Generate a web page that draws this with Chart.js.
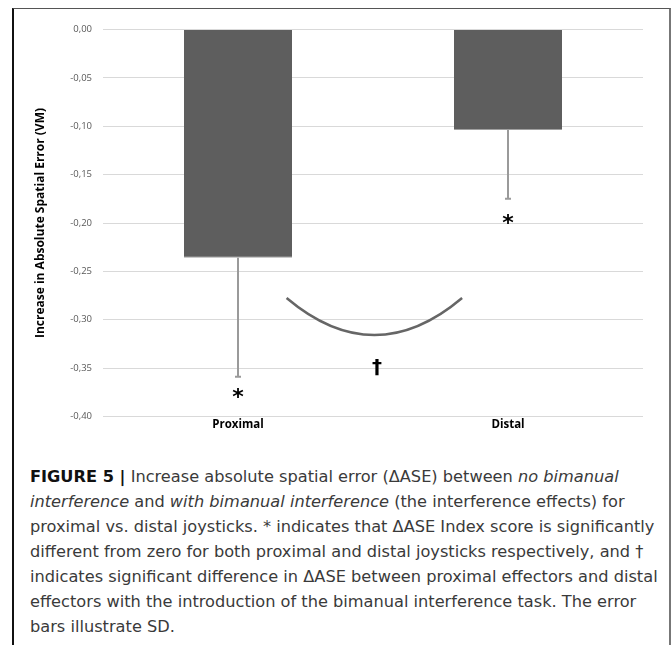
<!DOCTYPE html>
<html>
<head>
<meta charset="utf-8">
<script src="https://cdn.jsdelivr.net/npm/chart.js@4.4.0/dist/chart.umd.min.js"></script>
<style>
body { margin: 0; background: #fff; width: 672px; height: 645px; overflow: hidden; position: relative; }
.frame { position: absolute; left: 12px; top: 8px; width: 655px; height: 700px; border-top: 1px solid #555; border-left: 2px solid #111; border-right: 2px solid #777; }
#wrap { position: absolute; left: 0; top: 0; width: 672px; height: 450px; }
.caption { position: absolute; left: 30px; top: 464px; font-family: 'DejaVu Sans', sans-serif; font-size: 16.2px; line-height: 25px; color: #3a3a3a; white-space: nowrap; }
.caption b { color: #111; }
</style>
</head>
<body>
<div class="frame"></div>
<div id="wrap"><canvas id="c"></canvas></div>
<div class="caption">
<b>FIGURE 5 |</b> Increase absolute spatial error (ΔASE) between <i>no bimanual</i><br>
<i>interference</i> and <i>with bimanual interference</i> (the interference effects) for<br>
proximal vs. distal joysticks. * indicates that ΔASE Index score is significantly<br>
different from zero for both proximal and distal joysticks respectively, and †<br>
indicates significant difference in ΔASE between proximal effectors and distal<br>
effectors with the introduction of the bimanual interference task. The error<br>
bars illustrate SD.
</div>
<script>
const CATEGORIES = ['Proximal', 'Distal'];
const MEANS = [-0.236, -0.104];
const SDS = [0.123, 0.071];
const Y_TICKS = [0, -0.05, -0.10, -0.15, -0.20, -0.25, -0.30, -0.35, -0.40];
// significance marks (value axis)
const STAR_Y = [-0.375, -0.195];
// curve between the groups: x in category units, y in data units
const ARC_X = [0.18, 0.505, 0.83];
const ARC_Y = [-0.2775, -0.3158, -0.2775];
const DAGGER_POS = [0.515, -0.35];

const fmt = v => Math.abs(v) < 1e-9 ? '0,00' : v.toFixed(2).replace('.', ',');

const marks = {
    id: 'marks',
    afterDatasetsDraw(chart) {
        const ctx = chart.ctx, x = chart.scales.x, y = chart.scales.y;
        const meta = chart.getDatasetMeta(0);
        ctx.save();
        // error bars (SD)
        ctx.strokeStyle = '#9a9a9a';
        ctx.lineWidth = 2;
        meta.data.forEach((bar, i) => {
            const y0 = y.getPixelForValue(MEANS[i]), y1 = y.getPixelForValue(MEANS[i] - SDS[i]);
            ctx.beginPath();
            ctx.moveTo(bar.x, y0);
            ctx.lineTo(bar.x, y1);
            ctx.moveTo(bar.x - 3, y1);
            ctx.lineTo(bar.x + 3, y1);
            ctx.stroke();
        });
        // asterisks
        ctx.fillStyle = '#000';
        ctx.font = 'bold 22px "DejaVu Sans"';
        ctx.textAlign = 'center';
        ctx.textBaseline = 'middle';
        meta.data.forEach((bar, i) => ctx.fillText('*', bar.x, y.getPixelForValue(STAR_Y[i]) + 6));
        // curve
        const px = ARC_X.map(v => x.getPixelForValue(v));
        const py = ARC_Y.map(v => y.getPixelForValue(v));
        const cx = 2 * px[1] - (px[0] + px[2]) / 2, cy = 2 * py[1] - (py[0] + py[2]) / 2;
        ctx.strokeStyle = '#666';
        ctx.lineWidth = 2.5;
        ctx.beginPath();
        ctx.moveTo(px[0], py[0]);
        ctx.quadraticCurveTo(cx, cy, px[2], py[2]);
        ctx.stroke();
        // dagger
        ctx.font = 'bold 20px "DejaVu Sans"';
        ctx.fillText('†', x.getPixelForValue(DAGGER_POS[0]), y.getPixelForValue(DAGGER_POS[1]));
        ctx.restore();
    }
};

new Chart(document.getElementById('c'), {
    type: 'bar',
    data: {
        labels: CATEGORIES,
        datasets: [{
            data: MEANS,
            backgroundColor: '#5e5e5e',
            borderColor: '#a0a0a0',
            borderWidth: { top: 0, left: 0, right: 0, bottom: 1 },
            borderSkipped: false,
            categoryPercentage: 1,
            barPercentage: 0.4
        }]
    },
    options: {
        responsive: true,
        maintainAspectRatio: false,
        animation: false,
        layout: { padding: { left: 0, right: 29, top: 29.5, bottom: 13.5 } },
        plugins: { legend: { display: false }, tooltip: { enabled: false } },
        scales: {
            x: {
                grid: { display: false, drawTicks: false },
                border: { display: false },
                ticks: { padding: 1, color: '#000', font: { family: 'Open Sans', size: 11.5, weight: 'bold' } },
                afterFit: s => { s.height = 20; }
            },
            y: {
                min: -0.4,
                max: 0,
                afterBuildTicks: s => { s.ticks = Y_TICKS.map(v => ({ value: v })); },
                grid: { color: '#d9d9d9', lineWidth: 1, drawTicks: false },
                border: { display: false },
                ticks: { padding: 11, color: '#595959', font: { family: 'Open Sans', size: 9.5 }, callback: v => fmt(v) },
                title: {
                    display: true,
                    text: 'Increase in Absolute Spatial Error (VM)',
                    color: '#000',
                    padding: { top: 33.8, bottom: 0 },
                    font: { family: 'Open Sans', size: 12, weight: 'bold' }
                },
                afterFit: s => { s.width = 103; }
            }
        }
    },
    plugins: [marks]
});
</script>
</body>
</html>
